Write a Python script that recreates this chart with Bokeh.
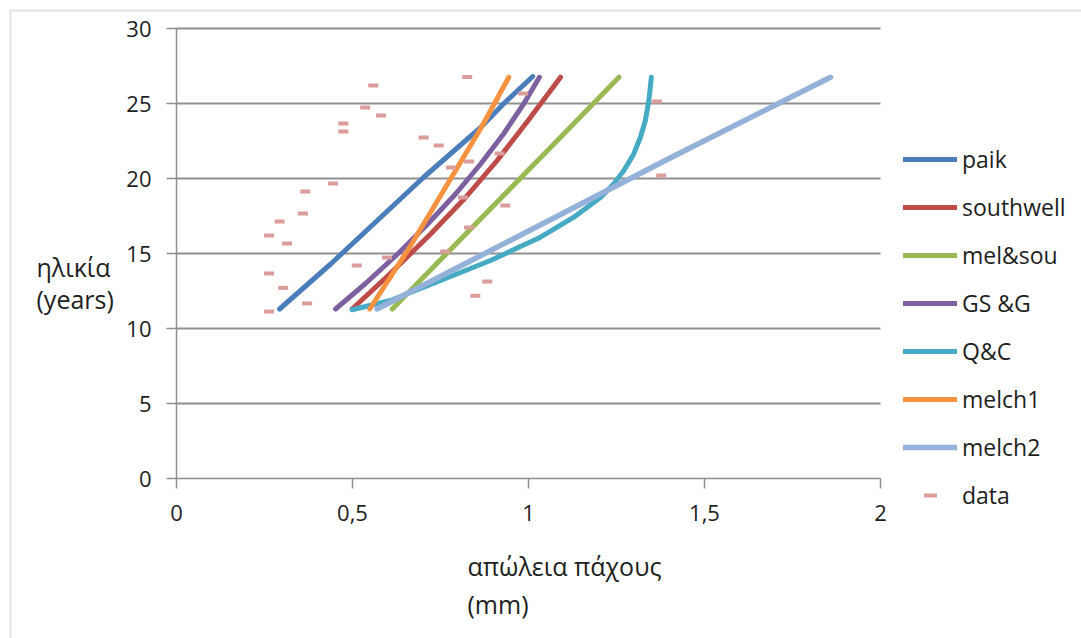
from bokeh.plotting import figure
from bokeh.models import Range1d, Legend, LegendItem, Label, BoxAnnotation, FixedTicker
from bokeh.embed import file_html
from bokeh.resources import INLINE

# ---- data ----
# measured points: thickness loss (mm) vs age (years)
data_loss = [0.559, 0.536, 0.581, 0.474, 0.474, 0.702, 0.745, 0.445, 0.366, 0.359,
             0.293, 0.263, 0.314, 0.598, 0.512, 0.263, 0.303, 0.371, 0.263, 0.826,
             0.985, 0.780, 0.831, 0.918, 0.814, 0.934, 0.831, 0.763, 0.883, 0.849,
             1.365, 1.377]
data_age = [26.2, 24.73, 24.2, 23.67, 23.13, 22.73, 22.2, 19.67, 19.13, 17.67,
            17.13, 16.2, 15.67, 14.73, 14.2, 13.67, 12.71, 11.67, 11.13, 26.76,
            25.67, 20.73, 21.13, 21.67, 18.73, 18.2, 16.73, 15.13, 13.13, 12.18,
            25.13, 20.2]

paik_age = [11.3, 14.3, 20.1, 23.4, 25.0, 26.8]
paik_loss = [0.293, 0.438, 0.703, 0.864, 0.930, 1.012]

southwell_age = [11.3, 13.5, 16.3, 18.7, 21.2, 23.9, 26.75]
southwell_loss = [0.499, 0.600, 0.722, 0.820, 0.911, 1.000, 1.091]

melsou_age = [11.3, 22.75, 26.75]
melsou_loss = [0.613, 1.091, 1.257]

gsg_age = [11.3, 13.0, 15.0, 17.0, 19.0, 21.0, 23.0, 25.0, 26.75]
gsg_loss = [0.452, 0.537, 0.630, 0.715, 0.794, 0.865, 0.930, 0.987, 1.031]

qc_age = [11.25, 11.87, 13.2, 14.53, 16.09, 17.42, 18.75, 19.64, 20.53, 21.64,
          22.75, 23.87, 25.2, 26.75]
qc_loss = [0.499, 0.608, 0.750, 0.892, 1.034, 1.129, 1.205, 1.242, 1.271, 1.299,
           1.318, 1.332, 1.342, 1.349]

melch1_age = [11.3, 15.4, 23.4, 26.75]
melch1_loss = [0.549, 0.662, 0.866, 0.944]

melch2_age = [11.3, 21.4, 26.75]
melch2_loss = [0.570, 1.405, 1.858]

series_names = ["paik", "southwell", "mel&sou", "GS &G", "Q&C", "melch1", "melch2"]
series_colors = ["#4A7EBB", "#BE4B48", "#98B954", "#7D60A0", "#46AAC5", "#F69240", "#93B1D9"]
data_color = "#DB9D9C"

x_ticks = [0, 0.5, 1, 1.5, 2]
x_tick_labels = ["0", "0,5", "1", "1,5", "2"]
y_ticks = [0, 5, 10, 15, 20, 25, 30]

FONT = "Open Sans"
FS_TICK = "22px"
FS_LEG = "23px"
FS_TITLE = "25px"
TXT = "#1E1E1E"
GRID = "#8F8F8F"

W, H = 1081, 638
PX_LEFT, PX_RIGHT = 176, 880      # pixel span of x = 0..2
PX_TOP, PX_BOTTOM = 28, 478       # pixel span of y = 30..0
sx = (x_ticks[-1] - x_ticks[0]) / (PX_RIGHT - PX_LEFT)
sy = (y_ticks[-1] - y_ticks[0]) / (PX_BOTTOM - PX_TOP)
xr = Range1d(-PX_LEFT * sx, (W - PX_LEFT) * sx)
yr = Range1d(-(H - PX_BOTTOM) * sy, PX_BOTTOM * sy)

p = figure(frame_width=W, frame_height=H, min_border=0,
           x_range=xr, y_range=yr,
           output_backend="svg", toolbar_location=None, title=None)
p.outline_line_color = None
p.background_fill_color = "white"
p.border_fill_color = "white"
p.xgrid.visible = False
p.ygrid.visible = False

# axes pinned at the data origin
for ax in (p.xaxis[0], p.yaxis[0]):
    ax.fixed_location = 0
    ax.axis_line_color = GRID
    ax.axis_line_width = 1.5
    ax.major_tick_line_color = GRID
    ax.major_tick_line_width = 1.5
    ax.major_tick_in = 0
    ax.major_tick_out = 10
    ax.minor_tick_line_color = None
    ax.major_label_text_font = FONT
    ax.major_label_text_font_size = FS_TICK
    ax.major_label_text_color = TXT
    ax.axis_label = None

p.xaxis[0].bounds = (x_ticks[0], x_ticks[-1])
p.xaxis[0].ticker = FixedTicker(ticks=x_ticks)
p.xaxis[0].major_label_overrides = {t: l for t, l in zip(x_ticks, x_tick_labels)}
p.xaxis[0].major_label_standoff = 16
p.yaxis[0].bounds = (y_ticks[0], y_ticks[-1])
p.yaxis[0].ticker = FixedTicker(ticks=y_ticks)
p.yaxis[0].major_label_standoff = 15

# horizontal gridlines across the plot area
p.segment(x0=x_ticks[0], x1=x_ticks[-1], y0=y_ticks[1:], y1=y_ticks[1:],
          line_color=GRID, line_width=2)

# model lines
series = [(paik_loss, paik_age), (southwell_loss, southwell_age), (melsou_loss, melsou_age),
          (gsg_loss, gsg_age), (qc_loss, qc_age), (melch1_loss, melch1_age), (melch2_loss, melch2_age)]
items = []
for (xs, ys), name, col in zip(series, series_names, series_colors):
    w = 5.5 if name == "melch2" else 5
    r = p.line(xs, ys, line_color=col, line_width=w, line_cap="round", line_join="round")
    items.append(LegendItem(label=name, renderers=[r]))

rd = p.scatter(data_loss, data_age, marker="dash", size=10, line_color=data_color,
               line_width=4, line_cap="butt")
items.append(LegendItem(label="data", renderers=[rd]))

legend = Legend(items=items, location=(903, 127), orientation="vertical",
                glyph_width=54, glyph_height=32, label_height=32, spacing=16,
                padding=0, margin=0, label_standoff=5,
                label_text_font=FONT, label_text_font_size=FS_LEG, label_text_color=TXT,
                border_line_color=None, background_fill_alpha=0)
p.add_layout(legend, "center")

# axis titles as plain labels (pixel positions converted to data space)
def lab(px, py, t):
    p.add_layout(Label(x=(px - PX_LEFT) * sx, y=(PX_BOTTOM - py) * sy, text=t,
                       text_font=FONT, text_font_size=FS_TITLE, text_color=TXT,
                       text_align="left", text_baseline="middle"))

lab(36, 266, "ηλικία")
lab(36, 298, "(years)")
lab(467, 565, "απώλεια πάχους")
lab(467, 603, "(mm)")

# chart outer frame (right and bottom edges lie beyond the window)
p.add_layout(BoxAnnotation(left=(10 - PX_LEFT) * sx, right=(W + 50 - PX_LEFT) * sx,
                           top=(PX_BOTTOM - 10) * sy, bottom=(PX_BOTTOM - H - 50) * sy,
                           fill_alpha=0, line_color="#A6A6A6", line_width=2))

open("out.html", "w").write(file_html(p, INLINE))
